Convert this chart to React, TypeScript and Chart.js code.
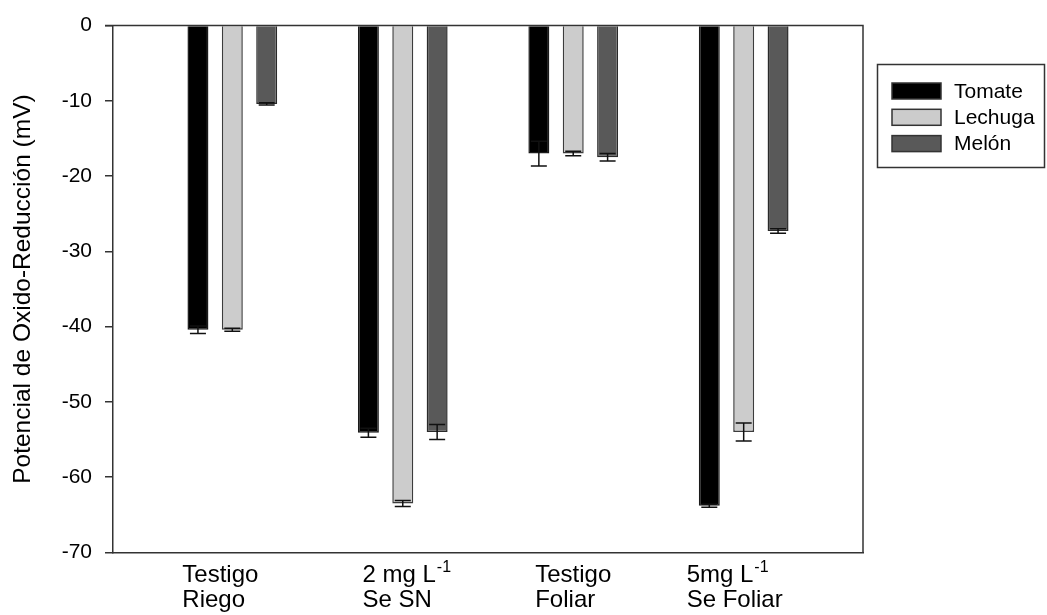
import React, { useEffect, useRef } from "react";
import { Chart, registerables } from "chart.js";

Chart.register(...registerables);

const FONT = "'Liberation Sans', Arial, sans-serif";

// Category labels ("^" marks a superscript part)
const categories: string[][] = [
  ["Testigo", "Riego"],
  ["2 mg L^-1", "Se SN"],
  ["Testigo", "Foliar"],
  ["5mg L^-1", "Se Foliar"],
];
const categoryPositions = [1, 2, 3, 4];
const seriesNames = ["Tomate", "Lechuga", "Melón"];
const tomate = [-40.4, -54.1, -17.0, -63.8];
const lechuga = [-40.4, -63.5, -17.0, -54.0];
const melon = [-10.4, -54.0, -17.5, -27.3];
const tomateErr = [0.5, 0.6, 1.65, 0.2];
const lechugaErr = [0.2, 0.4, 0.3, 1.2];
const melonErr = [0.15, 1.0, 0.5, 0.3];
const yTicks = [0, -10, -20, -30, -40, -50, -60, -70];
const yTitle = "Potencial de Oxido-Reducción (mV)";

const fills = ["#000000", "#cccccc", "#595959"];
const borders = ["#1a1a1a", "#3c3c3c", "#2a2a2a"];
const AXIS = "#333333";

const errorBarPlugin = {
  id: "errorBars",
  afterDatasetsDraw(chart: any) {
    const ctx = chart.ctx;
    const y = chart.scales.y;
    chart.data.datasets.forEach((ds: any, i: number) => {
      const meta = chart.getDatasetMeta(i);
      meta.data.forEach((el: any, j: number) => {
        const v = ds.data[j].y;
        const e = ds.errors[j];
        const yTop = y.getPixelForValue(v + e);
        const yBot = y.getPixelForValue(v - e);
        ctx.save();
        ctx.strokeStyle = "#111111";
        ctx.lineWidth = 1.5;
        ctx.beginPath();
        ctx.moveTo(el.x, yTop);
        ctx.lineTo(el.x, yBot);
        ctx.moveTo(el.x - 8, yTop);
        ctx.lineTo(el.x + 8, yTop);
        ctx.moveTo(el.x - 8, yBot);
        ctx.lineTo(el.x + 8, yBot);
        ctx.stroke();
        ctx.restore();
      });
    });
  },
};

const framePlugin = {
  id: "frame",
  afterDraw(chart: any) {
    const { ctx, chartArea } = chart;
    ctx.save();
    ctx.strokeStyle = AXIS;
    ctx.lineWidth = 1.5;
    ctx.beginPath();
    ctx.moveTo(chartArea.left - 8, chartArea.top);
    ctx.lineTo(chartArea.right, chartArea.top);
    ctx.lineTo(chartArea.right, chartArea.bottom);
    ctx.stroke();
    ctx.restore();
  },
};

// small horizontal nudges of each label block, as in the original figure
const LABEL_NUDGE = [-12, 4, 0, -9];

const xLabelPlugin = {
  id: "xLabels",
  afterDraw(chart: any) {
    const { ctx, chartArea } = chart;
    const xs = chart.scales.x;
    const mainFont = `24px ${FONT}`;
    const supFont = `16px ${FONT}`;
    ctx.save();
    ctx.fillStyle = "#000000";
    ctx.textBaseline = "alphabetic";
    ctx.textAlign = "left";
    categories.forEach((lines, i) => {
      const parts = lines.map((l) => {
        const [main, sup] = l.split("^");
        ctx.font = mainFont;
        const mw = ctx.measureText(main).width;
        ctx.font = supFont;
        const sw = sup ? ctx.measureText(sup).width + 1 : 0;
        return { main, sup, mw, w: mw + sw };
      });
      const blockW = Math.max(...parts.map((p) => p.w));
      const cx = xs.getPixelForValue(categoryPositions[i]);
      const left = cx - blockW / 2 + LABEL_NUDGE[i];
      parts.forEach((p, k) => {
        const baseY = chartArea.bottom + 29.5 + k * 25;
        ctx.font = mainFont;
        ctx.fillText(p.main, left, baseY);
        if (p.sup) {
          ctx.font = supFont;
          ctx.fillText(p.sup, left + p.mw + 1, baseY - 10);
        }
      });
    });
    ctx.restore();
  },
};

const legendPlugin = {
  id: "boxLegend",
  afterDraw(chart: any) {
    const ctx = chart.ctx;
    ctx.save();
    ctx.strokeStyle = AXIS;
    ctx.lineWidth = 1.5;
    ctx.strokeRect(877.5, 64.5, 167, 103);
    ctx.font = `21px ${FONT}`;
    ctx.textBaseline = "middle";
    ctx.textAlign = "left";
    chart.data.datasets.forEach((ds: any, i: number) => {
      const yc = 91 + i * 26.3;
      ctx.fillStyle = ds.backgroundColor;
      ctx.fillRect(892, yc - 8, 49, 16);
      ctx.strokeStyle = "#333333";
      ctx.lineWidth = 1.5;
      ctx.strokeRect(892, yc - 8, 49, 16);
      ctx.fillStyle = "#000000";
      ctx.fillText(ds.label, 954, yc + 1);
    });
    ctx.restore();
  },
};

export default function App() {
  const ref = useRef<HTMLCanvasElement | null>(null);

  useEffect(() => {
    if (!ref.current) return;
    Chart.defaults.font.family = FONT;
    const series = [tomate, lechuga, melon];
    const errs = [tomateErr, lechugaErr, melonErr];
    const chart = new Chart(ref.current, {
      type: "bar",
      data: {
        datasets: series.map((vals, i) => ({
          label: seriesNames[i],
          data: vals.map((v, j) => ({ x: categoryPositions[j], y: v })),
          errors: errs[i],
          backgroundColor: fills[i],
          borderColor: borders[i],
          borderWidth: 1.5,
          categoryPercentage: 0.605,
          barPercentage: 0.61,
        })) as any,
      },
      options: {
        responsive: false,
        animation: false,
        devicePixelRatio: 1,
        layout: { padding: { left: 0, top: 22, right: 184, bottom: 0 } },
        plugins: {
          legend: { display: false },
          tooltip: { enabled: false },
        },
        scales: {
          x: {
            type: "linear",
            min: 0.3,
            max: 4.7,
            offset: false,
            afterBuildTicks: (s: any) => {
              s.ticks = categoryPositions.map((v) => ({ value: v }));
            },
            ticks: { display: false },
            grid: { display: false },
            border: { display: true, color: AXIS, width: 1.5 },
            afterFit: (s: any) => {
              s.height = 62.5;
            },
          },
          y: {
            type: "linear",
            min: -70,
            max: 0,
            afterBuildTicks: (s: any) => {
              s.ticks = yTicks.map((v) => ({ value: v }));
            },
            ticks: {
              color: "#000000",
              font: { size: 21, family: FONT },
              padding: 13,
            },
            grid: {
              drawOnChartArea: false,
              drawTicks: true,
              tickLength: 8,
              color: AXIS,
              lineWidth: 1.5,
            },
            border: { display: true, color: AXIS, width: 1.5 },
            title: {
              display: true,
              text: yTitle,
              color: "#000000",
              font: { size: 24.5, family: FONT },
              padding: { top: 9, bottom: 0 },
            },
            afterFit: (s: any) => {
              s.width = 113;
            },
          },
        },
      } as any,
      plugins: [errorBarPlugin, framePlugin, xLabelPlugin, legendPlugin],
    });
    return () => chart.destroy();
  }, []);

  return (
    <div style={{ position: "fixed", left: 0, top: 0, width: 1047, height: 615, background: "#ffffff" }}>
      <canvas ref={ref} width={1047} height={615} style={{ display: "block" }} />
    </div>
  );
}
